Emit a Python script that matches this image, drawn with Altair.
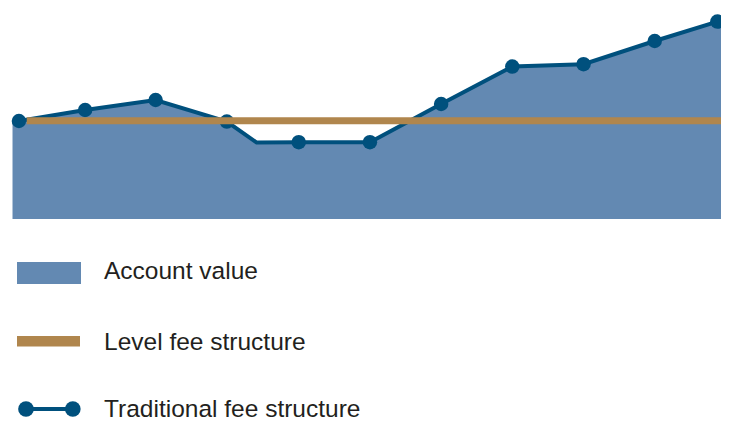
import altair as alt
import pandas as pd

# Account value path (x = period, y = value); first/last entries are the area edges
periods = [-0.09, 0.0, 0.93, 1.92, 2.92, 3.34, 3.93, 4.93, 5.93, 6.93, 7.93, 8.93, 9.81, 9.861]
values = [49.0, 49.0, 54.5, 59.5, 48.7, 38.2, 38.4, 38.4, 57.5, 76.2, 77.4, 89.0, 98.7, 99.3]

# Traditional fee structure markers
marker_periods = [0.0, 0.93, 1.92, 2.92, 3.93, 4.93, 5.93, 6.93, 7.93, 8.93, 9.81]
marker_values = [49.0, 54.5, 59.5, 48.7, 38.4, 38.4, 57.5, 76.2, 77.4, 89.0, 98.7]

# Level fee structure
level_fee = [49.15]
level_start = [0.11]
level_end = [9.861]

legend_labels = ["Account value", "Level fee structure", "Traditional fee structure"]

AREA = "#6389B2"
LINE = "#00507D"
ORANGE = "#B0864D"
TEXT = "#231F20"
FONT = "Liberation Sans"

area_df = pd.DataFrame({"period": periods, "value": values})
line_df = area_df.iloc[1:].reset_index(drop=True)
pts_df = pd.DataFrame({"period": marker_periods, "value": marker_values})
lvl_df = pd.DataFrame({"start": level_start, "end": level_end, "value": level_fee})
one = pd.DataFrame({"k": [0]})

W, H = 713, 415
xs = alt.Scale(domain=[-0.1534, 9.861], range=[0, W], nice=False, zero=False)
ys = alt.Scale(domain=[0, 100], range=[211, 11], nice=False, zero=False)

area = alt.Chart(area_df).mark_area(color=AREA, opacity=1).encode(
    x=alt.X("period:Q", scale=xs, axis=None),
    y=alt.Y("value:Q", scale=ys, axis=None),
)
line = alt.Chart(line_df).mark_line(color=LINE, strokeWidth=4, strokeJoin="miter").encode(
    x=alt.X("period:Q", scale=xs, axis=None),
    y=alt.Y("value:Q", scale=ys, axis=None),
)
pts = alt.Chart(pts_df).mark_circle(color=LINE, opacity=1, size=210).encode(
    x=alt.X("period:Q", scale=xs, axis=None),
    y=alt.Y("value:Q", scale=ys, axis=None),
)
lvl = alt.Chart(lvl_df).mark_rule(color=ORANGE, strokeWidth=7, strokeCap="butt").encode(
    x=alt.X("start:Q", scale=xs, axis=None),
    x2="end:Q",
    y=alt.Y("value:Q", scale=ys, axis=None),
)

# Legend
leg1 = alt.Chart(one).mark_rect(color=AREA).encode(
    x=alt.value(9), x2=alt.value(73), y=alt.value(254), y2=alt.value(276))
leg2 = alt.Chart(one).mark_rect(color=ORANGE).encode(
    x=alt.value(9), x2=alt.value(72), y=alt.value(328), y2=alt.value(338.5))
ROW3 = 401
leg3l = alt.Chart(one).mark_rule(color=LINE, strokeWidth=4).encode(
    x=alt.value(18), x2=alt.value(64.8), y=alt.value(ROW3))
leg3a = alt.Chart(one).mark_circle(color=LINE, opacity=1, size=246).encode(
    x=alt.value(18), y=alt.value(ROW3))
leg3b = alt.Chart(one).mark_circle(color=LINE, opacity=1, size=246).encode(
    x=alt.value(64.8), y=alt.value(ROW3))

def label(txt, y):
    return alt.Chart(one).mark_text(
        align="left", baseline="alphabetic", fontSize=24.5, font=FONT, color=TEXT
    ).encode(x=alt.value(96), y=alt.value(y), text=alt.value(txt))

t1 = label(legend_labels[0], 271.3)
t2 = label(legend_labels[1], 342)
t3 = label(legend_labels[2], 409.3)

chart = alt.layer(
    area, line, pts, lvl, leg1, leg2, leg3l, leg3a, leg3b, t1, t2, t3
).properties(
    width=W, height=H,
    autosize=alt.AutoSizeParams(type="none"),
    padding=0,
).configure_view(stroke=None)

chart.save("out.html", embed_options={"renderer": "svg", "actions": False})
